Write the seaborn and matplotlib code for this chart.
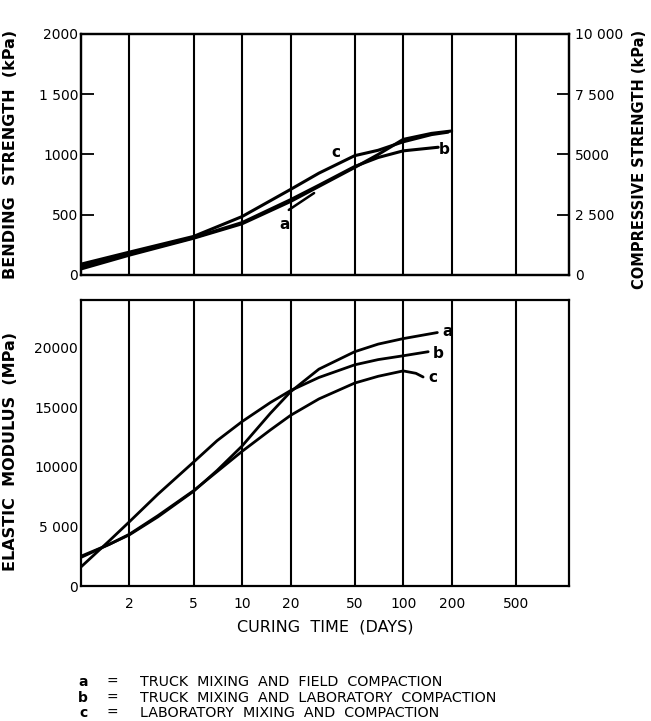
import numpy as np
import pandas as pd
import matplotlib
matplotlib.use('Agg')
import matplotlib.pyplot as plt
import seaborn as sns

# === Data === #

# Top panel: bending strength (kPa), right axis = compressive strength (x5)
bend_days_a = [1, 2, 5, 10, 20, 30, 50, 70, 100, 150, 200]
bend_a = [50, 165, 305, 425, 610, 735, 892, 1000, 1125, 1175, 1195]
bend_days_b = [1, 2, 5, 10, 20, 30, 50, 70, 100, 165]
bend_b = [70, 175, 310, 435, 625, 745, 900, 975, 1030, 1060]
bend_days_c = [1, 2, 5, 10, 20, 30, 50, 70, 100, 150, 190]
bend_c = [90, 190, 320, 485, 710, 845, 990, 1035, 1105, 1165, 1185]

# Bottom panel: elastic modulus (MPa)
mod_days_a = [1, 1.5, 2, 3, 5, 7, 10, 15, 20, 30, 50, 70, 100, 163]
mod_a = [2400, 3500, 4300, 5800, 7950, 9700, 11750, 14500, 16300, 18200, 19660, 20300, 20760, 21270]
mod_days_b = [1, 1.5, 2, 3, 5, 7, 10, 15, 20, 30, 50, 70, 100, 143]
mod_b = [1600, 3800, 5400, 7700, 10400, 12200, 13800, 15400, 16400, 17500, 18560, 19000, 19320, 19660]
mod_days_c = [1, 1.5, 2, 3, 5, 7, 10, 15, 20, 30, 50, 70, 100, 120, 133]
mod_c = [2500, 3500, 4350, 5900, 8000, 9600, 11300, 13100, 14320, 15700, 17030, 17600, 18050, 17850, 17540]

grid_days = [2, 5, 10, 20, 50, 100, 200, 500]
grid_labels = ['2', '5', '10', '20', '50', '100', '200', '500']

bend_ticks = [0, 500, 1000, 1500, 2000]
bend_labels = ['0', '500', '1000', '1 500', '2000']
comp_ticks = [0, 2500, 5000, 7500, 10000]
comp_labels = ['0', '2 500', '5000', '7 500', '10 000']
mod_ticks = [0, 5000, 10000, 15000, 20000]
mod_labels = ['0', '5 000', '10000', '15000', '20000']

legend_keys = ['a', 'b', 'c']
legend_text = ['TRUCK  MIXING  AND  FIELD  COMPACTION',
               'TRUCK  MIXING  AND  LABORATORY  COMPACTION',
               'LABORATORY  MIXING  AND  COMPACTION']


def long_form(days, values, keys):
    frames = []
    for d, v, k in zip(days, values, keys):
        frames.append(pd.DataFrame({'days': d, 'value': v, 'curve': k}))
    return pd.concat(frames, ignore_index=True)


bend_df = long_form([bend_days_a, bend_days_b, bend_days_c], [bend_a, bend_b, bend_c], legend_keys)
mod_df = long_form([mod_days_a, mod_days_b, mod_days_c], [mod_a, mod_b, mod_c], legend_keys)

sns.set_style('white')
plt.rcParams['font.family'] = ['DejaVu Sans']
plt.rcParams['axes.linewidth'] = 1.6
plt.rcParams['axes.edgecolor'] = 'black'
plt.rcParams['text.color'] = 'black'
plt.rcParams['axes.labelcolor'] = 'black'
plt.rcParams['xtick.color'] = 'black'
plt.rcParams['ytick.color'] = 'black'

fig = plt.figure(figsize=(6.51, 7.21), dpi=100)
ax1 = fig.add_axes([0.1244, 0.6186, 0.750, 0.3343])
ax2 = fig.add_axes([0.1244, 0.1872, 0.750, 0.3967])

black = {k: 'black' for k in legend_keys}

# === Top panel === #
sns.lineplot(data=bend_df, x='days', y='value', hue='curve', palette=black,
             linewidth=2.2, legend=False, ax=ax1, sort=False)
ax1.set_xscale('log')
ax1.set_xlim(1, 1074)
ax1.set_ylim(0, 2000)
ax1.set_xticks(grid_days)
ax1.set_xticklabels([])
ax1.xaxis.set_minor_locator(matplotlib.ticker.NullLocator())
ax1.set_yticks(bend_ticks)
ax1.set_yticklabels(bend_labels)
ax1.grid(axis='x', color='black', linewidth=1.5)
ax1.tick_params(axis='x', length=0)
ax1.tick_params(axis='y', direction='in', length=9, width=1.3, labelsize=10, pad=2)
ax1.set_xlabel('')
ax1.set_ylabel('BENDING  STRENGTH  (kPa)', fontsize=11.5, fontweight='bold')
ax1.yaxis.set_label_coords(-0.129, 0.5)

ax1.text(18.4, 420, 'a', fontsize=11, fontweight='bold', ha='center', va='center')
ax1.plot([19.5, 28], [540, 680], color='black', linewidth=1.8)
ax1.text(38.4, 1020, 'c', fontsize=11, fontweight='bold', ha='center', va='center')
ax1.text(180, 1045, 'b', fontsize=11, fontweight='bold', ha='center', va='center')

ax1r = ax1.twinx()
ax1r.set_ylim(0, 10000)
ax1r.set_yticks(comp_ticks)
ax1r.set_yticklabels(comp_labels)
ax1r.tick_params(axis='y', direction='in', length=9, width=1.3, labelsize=10, pad=4)
ax1r.set_ylabel('COMPRESSIVE STRENGTH (kPa)', fontsize=10.5, fontweight='bold')
ax1r.yaxis.set_label_coords(1.128, 0.48)

# === Bottom panel === #
sns.lineplot(data=mod_df, x='days', y='value', hue='curve', palette=black,
             linewidth=2.0, legend=False, ax=ax2, sort=False)
ax2.set_xscale('log')
ax2.set_xlim(1, 1074)
ax2.set_ylim(0, 24000)
ax2.set_xticks(grid_days)
ax2.set_xticklabels(grid_labels)
ax2.xaxis.set_minor_locator(matplotlib.ticker.NullLocator())
ax2.set_yticks(mod_ticks)
ax2.set_yticklabels(mod_labels)
ax2.grid(axis='x', color='black', linewidth=1.5)
ax2.tick_params(axis='x', length=0, labelsize=10, pad=8)
ax2.tick_params(axis='y', direction='in', length=9, width=1.3, labelsize=10, pad=2)
ax2.set_xlabel('CURING  TIME  (DAYS)', fontsize=11.5, labelpad=6)
ax2.set_ylabel('ELASTIC  MODULUS  (MPa)', fontsize=11.5, fontweight='bold')
ax2.yaxis.set_label_coords(-0.129, 0.47)

ax2.text(188, 21360, 'a', fontsize=11, fontweight='bold', ha='center', va='center')
ax2.text(166, 19490, 'b', fontsize=11, fontweight='bold', ha='center', va='center')
ax2.text(154, 17460, 'c', fontsize=11, fontweight='bold', ha='center', va='center')

# === Key below the chart === #
for i, (k, t) in enumerate(zip(legend_keys, legend_text)):
    y = 1 - (682 + 15.5 * i) / 721
    fig.text(83 / 651, y, k, fontsize=10, fontweight='bold', ha='center', va='center')
    fig.text(112 / 651, y, '=', fontsize=10, ha='center', va='center')
    fig.text(140 / 651, y, t, fontsize=10.3, ha='left', va='center')

fig.savefig('out.png', dpi=100)
